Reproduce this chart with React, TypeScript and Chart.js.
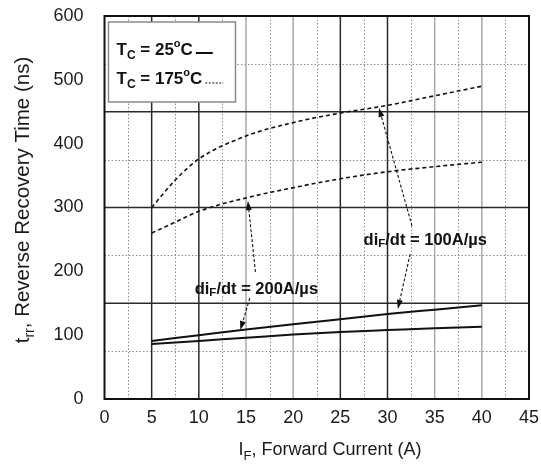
import React, { useEffect, useRef } from "react";
import { Chart, registerables } from "chart.js";

Chart.register(...registerables);

// ---- data ----
const currentA = [5, 7.5, 10, 15, 20, 25, 30, 35, 40];
const trr175At100 = [300, 343, 376, 412, 433, 448, 460, 475, 490];
const trr175At200 = [260, 277, 294, 315, 331, 345, 356, 364, 371];
const trr25At200 = [91, 95.5, 100, 109, 117, 125, 133, 140, 147];
const trr25At100 = [86, 88.5, 91, 96, 101, 105, 108, 111, 113];

const xMin = 0;
const xMax = 45;
const xStep = 5;
const yMin = 0;
const yMax = 600;
const yStep = 100;

// grid values
const darkGridX = [5, 10, 25, 30];
const lightGridX = [15, 20, 35, 40];
const darkGridY = [150, 300, 450];
const dottedGridX = [2.5, 7.5, 12.5, 17.5, 22.5, 27.5, 32.5, 37.5, 42.5];
const dottedGridY = [75, 225, 375, 525];

// annotation anchors (data coordinates)
const arrowFromX = [32.6, 32.4, 16.0, 15.4];
const arrowFromY = [271, 227, 199, 158];
const arrowToX = [29.1, 31.1, 15.2, 14.4];
const arrowToY = [456, 141, 310, 108];
const noteX = [34.0, 16.1];
const noteY = [250, 174];
const noteRate = ["100A/µs", "200A/µs"];

const FAM = "'Liberation Sans', Arial, Helvetica, sans-serif";

type Part = { t: string; size: number; dy: number; bold?: boolean };

function setFont(ctx: CanvasRenderingContext2D, p: Part) {
  ctx.font = `${p.bold ? "bold " : ""}${p.size}px ${FAM}`;
}

function richWidth(ctx: CanvasRenderingContext2D, parts: Part[]) {
  let w = 0;
  for (const p of parts) {
    setFont(ctx, p);
    w += ctx.measureText(p.t).width;
  }
  return w;
}

function drawRich(
  ctx: CanvasRenderingContext2D,
  parts: Part[],
  x: number,
  y: number,
  align: "left" | "center"
) {
  const w = richWidth(ctx, parts);
  let cx = align === "center" ? x - w / 2 : x;
  ctx.textAlign = "left";
  ctx.textBaseline = "alphabetic";
  for (const p of parts) {
    setFont(ctx, p);
    ctx.fillText(p.t, cx, y + p.dy);
    cx += ctx.measureText(p.t).width;
  }
  return cx;
}

function seg(ctx: CanvasRenderingContext2D, x1: number, y1: number, x2: number, y2: number) {
  ctx.beginPath();
  ctx.moveTo(x1, y1);
  ctx.lineTo(x2, y2);
  ctx.stroke();
}

const overlay = {
  id: "overlay",
  beforeDatasetsDraw(chart: any) {
    const { ctx, chartArea: a, scales } = chart;
    const xs = scales.x;
    const ys = scales.y;
    ctx.save();
    // dotted minor grid
    ctx.strokeStyle = "#8c8c8c";
    ctx.lineWidth = 1;
    ctx.setLineDash([1.5, 2]);
    dottedGridX.forEach((v) => {
      const px = Math.round(xs.getPixelForValue(v)) + 0.5;
      seg(ctx, px, a.top, px, a.bottom);
    });
    dottedGridY.forEach((v) => {
      const py = Math.round(ys.getPixelForValue(v)) + 0.5;
      seg(ctx, a.left, py, a.right, py);
    });
    ctx.setLineDash([]);
    // light major verticals
    ctx.strokeStyle = "#a8a8a8";
    ctx.lineWidth = 1.5;
    lightGridX.forEach((v) => {
      const px = xs.getPixelForValue(v);
      seg(ctx, px, a.top, px, a.bottom);
    });
    // dark major lines
    ctx.strokeStyle = "#2a2a2a";
    ctx.lineWidth = 1.5;
    darkGridX.forEach((v) => {
      const px = xs.getPixelForValue(v);
      seg(ctx, px, a.top, px, a.bottom);
    });
    darkGridY.forEach((v) => {
      const py = ys.getPixelForValue(v);
      seg(ctx, a.left, py, a.right, py);
    });
    ctx.restore();
  },
  afterDatasetsDraw(chart: any) {
    const { ctx, chartArea: a, scales } = chart;
    const xs = scales.x;
    const ys = scales.y;
    ctx.save();

    // plot border
    ctx.strokeStyle = "#111";
    ctx.lineWidth = 2;
    ctx.strokeRect(a.left, a.top, a.right - a.left, a.bottom - a.top);

    // legend box
    const bx = a.left + 4;
    const by = a.top + 6;
    ctx.fillStyle = "#ffffff";
    ctx.fillRect(bx, by, 127, 80);
    ctx.strokeStyle = "#8a8a8a";
    ctx.lineWidth = 1.5;
    ctx.strokeRect(bx, by, 127, 80);
    ctx.fillStyle = "#111";
    const row1: Part[] = [
      { t: "T", size: 17, dy: 0, bold: true },
      { t: "C", size: 12, dy: 4, bold: true },
      { t: " = 25", size: 17, dy: 0, bold: true },
      { t: "o", size: 11, dy: -8, bold: true },
      { t: "C", size: 17, dy: 0, bold: true },
    ];
    const row2: Part[] = [
      { t: "T", size: 17, dy: 0, bold: true },
      { t: "C", size: 12, dy: 4, bold: true },
      { t: " = 175", size: 17, dy: 0, bold: true },
      { t: "o", size: 11, dy: -8, bold: true },
      { t: "C", size: 17, dy: 0, bold: true },
    ];
    const e1 = drawRich(ctx, row1, bx + 8, by + 33, "left");
    const e2 = drawRich(ctx, row2, bx + 8, by + 62, "left");
    ctx.strokeStyle = "#111";
    ctx.lineWidth = 2;
    seg(ctx, e1 + 3, by + 31, e1 + 20, by + 31);
    ctx.lineWidth = 1.2;
    ctx.setLineDash([2, 1.5]);
    seg(ctx, e2 + 3, by + 61, e2 + 21, by + 61);
    ctx.setLineDash([]);

    // arrows
    for (let i = 0; i < arrowFromX.length; i++) {
      const x1 = xs.getPixelForValue(arrowFromX[i]);
      const y1 = ys.getPixelForValue(arrowFromY[i]);
      const x2 = xs.getPixelForValue(arrowToX[i]);
      const y2 = ys.getPixelForValue(arrowToY[i]);
      const ang = Math.atan2(y2 - y1, x2 - x1);
      const hl = 9;
      const hw = 3;
      const bxp = x2 - hl * Math.cos(ang);
      const byp = y2 - hl * Math.sin(ang);
      ctx.strokeStyle = "#111";
      ctx.lineWidth = 1.1;
      ctx.setLineDash([3, 2]);
      seg(ctx, x1, y1, bxp, byp);
      ctx.setLineDash([]);
      ctx.fillStyle = "#111";
      ctx.beginPath();
      ctx.moveTo(x2, y2);
      ctx.lineTo(bxp + hw * Math.sin(ang), byp - hw * Math.cos(ang));
      ctx.lineTo(bxp - hw * Math.sin(ang), byp + hw * Math.cos(ang));
      ctx.closePath();
      ctx.fill();
    }

    // notes
    ctx.fillStyle = "#111";
    for (let i = 0; i < noteX.length; i++) {
      const px = xs.getPixelForValue(noteX[i]);
      const py = ys.getPixelForValue(noteY[i]);
      const parts: Part[] = [
        { t: "di", size: 16.5, dy: 0, bold: true },
        { t: "F", size: 11.5, dy: 2, bold: true },
        { t: "/dt = " + noteRate[i], size: 16.5, dy: 0, bold: true },
      ];
      drawRich(ctx, parts, px, py + 6, "center");
    }

    // axis titles
    ctx.fillStyle = "#1a1a1a";
    const xt: Part[] = [
      { t: "I", size: 18, dy: 0 },
      { t: "F", size: 13, dy: 5 },
      { t: ", Forward Current (A)", size: 18, dy: 0 },
    ];
    drawRich(ctx, xt, 330, 455, "center");

    ctx.translate(29, 200);
    ctx.rotate(-Math.PI / 2);
    const yt: Part[] = [
      { t: "t", size: 20.5, dy: 0 },
      { t: "rr", size: 14, dy: 5 },
      { t: ", Reverse Recovery Time (ns)", size: 20.5, dy: 0 },
    ];
    drawRich(ctx, yt, 0, 0, "center");
    ctx.restore();
  },
};

export default function App() {
  const ref = useRef<HTMLCanvasElement | null>(null);
  useEffect(() => {
    document.body.style.margin = "0";
    const canvas = ref.current;
    if (!canvas) return;
    const mk = (ys: number[]) => currentA.map((x, i) => ({ x, y: ys[i] }));
    const chart = new Chart(canvas, {
      type: "line",
      data: {
        datasets: [
          {
            label: "Tc=175C 100A/us",
            data: mk(trr175At100),
            borderColor: "#111",
            borderWidth: 1.6,
            borderDash: [4, 3],
            pointRadius: 0,
            cubicInterpolationMode: "monotone",
            fill: false,
          },
          {
            label: "Tc=175C 200A/us",
            data: mk(trr175At200),
            borderColor: "#111",
            borderWidth: 1.6,
            borderDash: [4, 3],
            pointRadius: 0,
            cubicInterpolationMode: "monotone",
            fill: false,
          },
          {
            label: "Tc=25C upper",
            data: mk(trr25At200),
            borderColor: "#111",
            borderWidth: 2,
            pointRadius: 0,
            cubicInterpolationMode: "monotone",
            fill: false,
          },
          {
            label: "Tc=25C lower",
            data: mk(trr25At100),
            borderColor: "#111",
            borderWidth: 2,
            pointRadius: 0,
            cubicInterpolationMode: "monotone",
            fill: false,
          },
        ],
      },
      options: {
        animation: false,
        responsive: false,
        devicePixelRatio: 1,
        layout: { padding: { left: 0, right: 12, top: 16, bottom: 0 } },
        plugins: {
          legend: { display: false },
          tooltip: { enabled: false },
          title: { display: false },
        },
        scales: {
          x: {
            type: "linear",
            min: xMin,
            max: xMax,
            grid: { display: false, drawTicks: false },
            border: { display: false },
            ticks: {
              stepSize: xStep,
              autoSkip: false,
              maxRotation: 0,
              padding: 8,
              color: "#1a1a1a",
              font: { family: FAM, size: 18 },
            },
            afterFit: (s: any) => {
              s.height = 73;
              s.paddingLeft = 0;
              s.paddingRight = 0;
            },
          },
          y: {
            type: "linear",
            min: yMin,
            max: yMax,
            grid: { display: false, drawTicks: false },
            border: { display: false },
            ticks: {
              stepSize: yStep,
              autoSkip: false,
              padding: 21,
              color: "#1a1a1a",
              font: { family: FAM, size: 18 },
            },
            afterFit: (s: any) => {
              s.width = 104.5;
              s.paddingTop = 0;
              s.paddingBottom = 0;
            },
          },
        },
      },
      plugins: [overlay],
    } as any);
    return () => chart.destroy();
  }, []);
  return (
    <canvas
      ref={ref}
      width={541}
      height={472}
      style={{ display: "block", width: 541, height: 472 }}
    />
  );
}
